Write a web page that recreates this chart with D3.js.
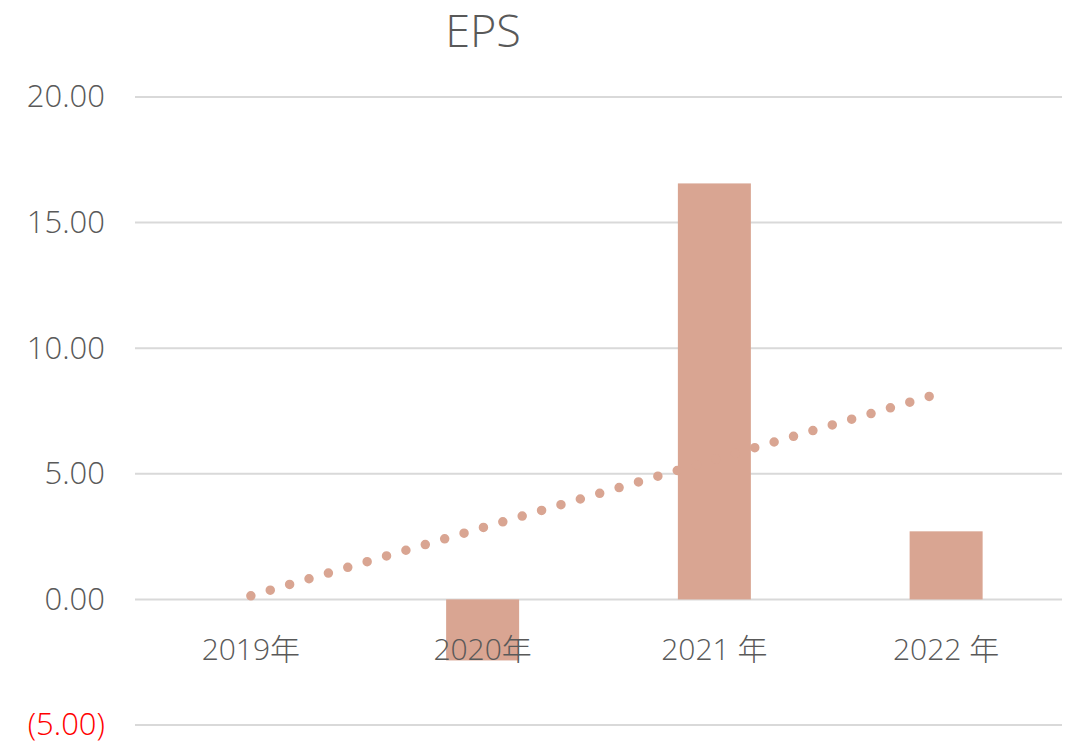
<!DOCTYPE html>
<html>
<head>
<meta charset="utf-8">
<script src="https://cdn.jsdelivr.net/npm/d3@7"></script>
<style>
  body { margin: 0; background: #fff; }
  svg { display: block; font-family: 'Open Sans', 'Noto Sans CJK TC', sans-serif; font-weight: 300; }
</style>
</head>
<body>
<div id="chart"></div>
<script>
// data
const years = ["2019年", "2020年", "2021 年", "2022 年"];
const eps = [0.0, -2.43, 16.56, 2.71];
const yTicks = [-5, 0, 5, 10, 15, 20];

const width = 1074, height = 743;
const margin = { top: 97, right: 12, bottom: 18, left: 135 };
const barColor = "#d9a592";
const textColor = "#595959";

const svg = d3.select("#chart").append("svg")
    .attr("width", width)
    .attr("height", height);

// scales
const x = d3.scaleBand()
    .domain(years)
    .range([margin.left, width - margin.right])
    .padding(0);

const y = d3.scaleLinear()
    .domain([-5, 20])
    .range([height - margin.bottom, margin.top]);

const barW = x.bandwidth() * 0.315;

// title
svg.append("text")
    .attr("x", 483)
    .attr("y", 47)
    .attr("text-anchor", "middle")
    .style("font-size", "45px")
    .style("fill", textColor)
    .text("EPS");

// gridlines
svg.append("g")
    .selectAll("line")
    .data(yTicks)
    .join("line")
    .attr("x1", margin.left)
    .attr("x2", width - margin.right)
    .attr("y1", d => y(d))
    .attr("y2", d => y(d))
    .attr("stroke", "#d9d9d9")
    .attr("stroke-width", 2);

// y axis labels
const yAxis = svg.append("g")
    .attr("transform", `translate(${margin.left - 30},0)`)
    .call(d3.axisLeft(y).tickValues(yTicks).tickSize(0).tickPadding(0)
        .tickFormat(d => d < 0 ? "(" + d3.format(".2f")(-d) + ")" : d3.format(".2f")(d)));
yAxis.select(".domain").remove();
yAxis.selectAll("text")
    .style("font-family", "'Open Sans', sans-serif")
    .style("font-weight", 300)
    .style("font-size", "31px")
    .style("fill", d => d < 0 ? "#ff0000" : textColor);

// bars
svg.append("g")
    .selectAll("rect")
    .data(eps)
    .join("rect")
    .attr("x", (d, i) => x(years[i]) + (x.bandwidth() - barW) / 2)
    .attr("y", d => y(Math.max(0, d)))
    .attr("width", barW)
    .attr("height", d => Math.abs(y(d) - y(0)))
    .attr("fill", barColor);

// linear trendline computed from the bars
const idx = eps.map((d, i) => i);
const mx = d3.mean(idx), my = d3.mean(eps);
const slope = d3.sum(idx, i => (i - mx) * (eps[i] - my)) / d3.sum(idx, i => (i - mx) ** 2);
const icpt = my - slope * mx;
const trend = [0, years.length - 1].map(i => [x(years[i]) + x.bandwidth() / 2, y(icpt + slope * i)]);

svg.append("path")
    .attr("d", d3.line()(trend))
    .attr("fill", "none")
    .attr("stroke", barColor)
    .attr("stroke-width", 9.5)
    .attr("stroke-linecap", "round")
    .attr("stroke-dasharray", "0 20.2");

// x axis labels
const xAxis = svg.append("g")
    .attr("transform", `translate(0,${y(0)})`)
    .call(d3.axisBottom(x).tickSize(0).tickPadding(39));
xAxis.select(".domain").remove();
xAxis.selectAll("text")
    .style("font-family", "'Open Sans', 'Noto Sans CJK TC', sans-serif")
    .style("font-weight", 300)
    .style("font-size", "30px")
    .style("fill", textColor);
</script>
</body>
</html>
